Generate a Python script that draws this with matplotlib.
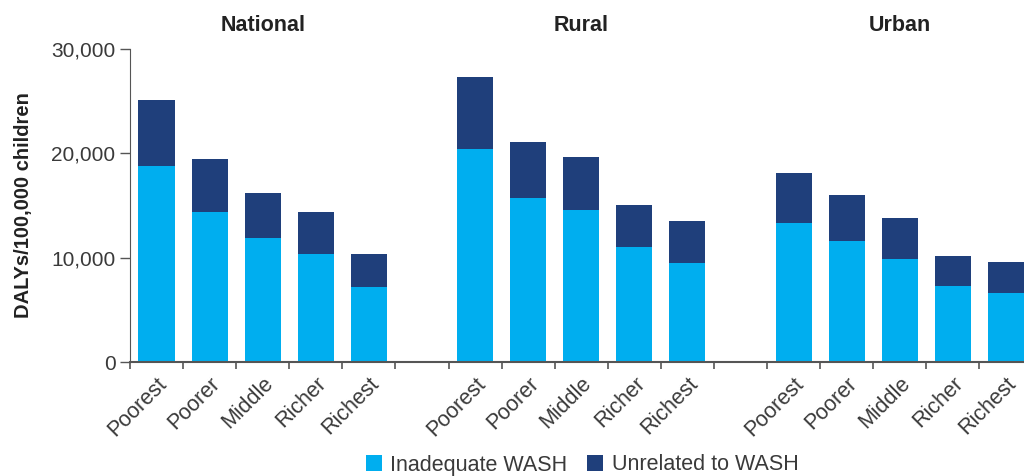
import matplotlib
matplotlib.use("Agg")
import matplotlib.pyplot as plt
from matplotlib.ticker import FuncFormatter, FixedLocator
import numpy as np

groups = ["National", "Rural", "Urban"]
quintiles = ["Poorest", "Poorer", "Middle", "Richer", "Richest"]
inadequate = {
    "National": [18800, 14400, 11900, 10350, 7200],
    "Rural":    [20450, 15750, 14600, 11050, 9500],
    "Urban":    [13350, 11600, 9900, 7300, 6650],
}
totals = {
    "National": [25150, 19450, 16200, 14400, 10350],
    "Rural":    [27350, 21100, 19650, 15050, 13500],
    "Urban":    [18150, 16000, 13800, 10150, 9600],
}
series_names = ["Inadequate WASH", "Unrelated to WASH"]
yticks = [0, 10000, 20000, 30000]

light = "#00AEEF"
dark = "#1F3F7B"
txt = "#3a3a3a"

plt.rcParams['font.family'] = ['Liberation Sans', 'DejaVu Sans']

fig = plt.figure(figsize=(10.24, 4.76), dpi=100)
ax = fig.add_axes([130/1024, (476-362)/476, (1024-130)/1024, (362-49)/476])

width = 0.68
xpos, xlabels = [], []
for gi, g in enumerate(groups):
    base = gi * 6
    xs = np.arange(len(quintiles)) + base
    inad = np.array(inadequate[g])
    unrel = np.array(totals[g]) - inad
    ax.bar(xs, inad, width, color=light, label=series_names[0] if gi == 0 else None)
    ax.bar(xs, unrel, width, bottom=inad, color=dark, label=series_names[1] if gi == 0 else None)
    xpos.extend(xs)
    xlabels.extend(quintiles)
    ax.text(base + 2, 1.075, g, transform=ax.get_xaxis_transform(), ha="center",
            va="center", fontsize=15.5, fontweight="bold", color="#222222")

ax.set_xlim(-0.5, 16.34)
ax.set_ylim(0, 30000)
ax.set_yticks(yticks)
ax.yaxis.set_major_formatter(FuncFormatter(lambda v, p: f"{int(v):,}"))
ax.set_xticks(xpos)
ax.set_xticklabels(xlabels, rotation=45, ha="right", rotation_mode="anchor",
                   fontsize=15.5, color=txt)
ax.tick_params(axis="x", which="major", length=0, pad=8)
ax.xaxis.set_minor_locator(FixedLocator(np.arange(-0.5, 17, 1.0)))
ax.tick_params(axis="x", which="minor", length=5, color="#555555", width=1.2)
ax.tick_params(axis="y", labelsize=15, colors="#555555", length=7, width=1.0)
for lbl in ax.get_yticklabels():
    lbl.set_color(txt)

for s in ["top", "right"]:
    ax.spines[s].set_visible(False)
ax.spines["left"].set_color("#555555")
ax.spines["bottom"].set_color("#555555")
ax.spines["bottom"].set_linewidth(1.5)

ax.set_ylabel("DALYs/100,000 children", fontsize=14.5, fontweight="bold", color="#222222")
ax.yaxis.set_label_coords(-0.108, 0.5)

handles, labels = ax.get_legend_handles_labels()
fig.legend(handles, labels, loc="center", bbox_to_anchor=(582/1024, 1 - 465/476), ncol=2,
           frameon=False, fontsize=15.5, handlelength=0.75, handleheight=0.75,
           handletextpad=0.4, columnspacing=0.9, labelcolor=txt)

fig.savefig("out.png", dpi=100)
